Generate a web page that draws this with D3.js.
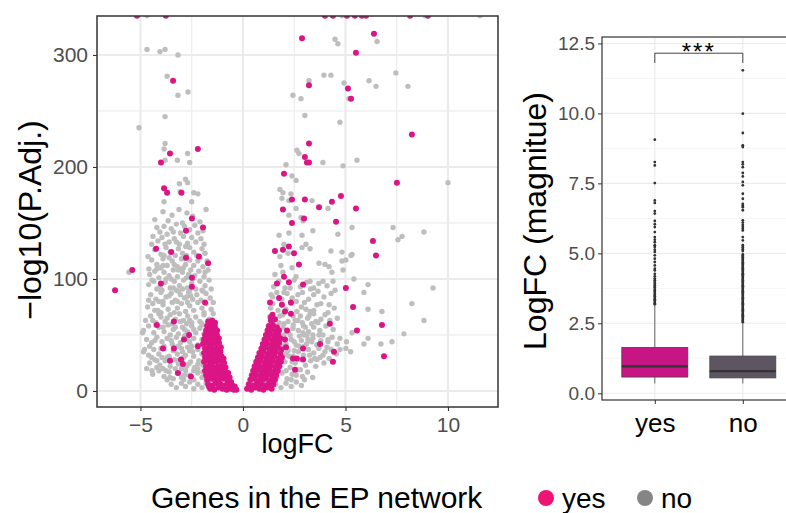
<!DOCTYPE html>
<html>
<head>
<meta charset="utf-8">
<script src="https://cdn.jsdelivr.net/npm/d3@7"></script>
<style>
  html, body { margin: 0; padding: 0; background: #fff; }
  svg { display: block; }
  text { font-family: "Liberation Sans", Arial, Helvetica, sans-serif; }
</style>
</head>
<body>
<svg id="chart" width="786" height="513"></svg>
<script>
// ---- Volcano plot data: [logFC, -log10(adjusted P)] ----
// genes outside the EP network, down-regulated side
const otherDown = [
  [-4.68,335],
  [-4.68,305],[-4.05,303],[-3.8,305],[-3.17,300],[-3.7,281],[-3.17,264],[-2.68,267],[-3.8,245],[-5.07,235],
  [-3.8,221],[-3.85,216],[-3.8,206],[-3.2,206],[-2.7,212],[-2.6,204],[-2.8,189],[-3.1,185],[-2.7,186],
  [-3.07,178],[-2.4,177],[-2.2,176],[-3.85,169],[-2.5,169],[-3.9,160],[-3.46,157],[-3.12,162],[-2.73,159],
  [-1.8,162],[-4.3,153],[-2.2,141],[-4.39,138],[-4.05,142],[-3.5,145],[-4.63,120],[-4.59,109],[-5.56,106],
  [-4.44,99],[-4.2,91],[-4.9,52],[-4.8,37],[-4.44,18],[-4.2,21],[-3.56,12],
  [-3.65,152],[-2.95,150],[-2.45,156],[-2.1,151],
  [-3.85,147],[-3.25,149],[-3.05,141],[-2.85,147],[-2.6,144],[-2.35,148],[-1.95,143],[-3.7,140],[-4.2,146],
  [-4.15,134],[-3.95,137],[-3.6,133],[-3.35,136],[-3.1,131],[-2.9,138],[-2.7,132],[-2.5,137],[-2.3,133],[-2.05,136],[-1.9,131],[-3.8,131],[-4.45,131],
  [-4.3,126],[-4.0,122],[-3.75,128],[-3.55,124],[-3.3,121],[-3.15,127],[-2.95,123],[-2.6,128],[-2.4,124],[-2.25,121],[-2.0,127],[-1.85,123],[-3.85,121],[-2.75,121],
  [-4.45,117],[-4.2,113],[-3.9,118],[-3.7,112],[-3.45,116],[-3.2,111],[-3.0,118],[-2.8,113],[-2.6,117],[-2.4,112],[-2.2,116],[-1.95,111],[-1.75,116],[-3.6,119],[-3.35,113],[-2.9,110],[-2.1,119],[-4.0,110],
  [-4.55,104],[-4.3,107],[-4.1,101],[-3.85,106],[-3.6,103],[-3.4,108],[-3.2,102],[-2.95,106],[-2.75,101],[-2.55,108],[-2.35,103],[-2.15,107],[-1.9,102],[-1.7,108],[-3.75,100],[-3.05,109],[-2.45,100],[-1.85,106],[-4.2,109],
  [-4.6,95],[-4.35,98],[-4.05,93],[-3.8,97],[-3.55,92],[-3.35,98],[-3.1,94],[-2.9,99],[-2.7,92],[-2.5,96],[-2.3,91],[-2.1,98],[-1.85,94],[-1.65,99],[-1.55,91],[-3.95,90],[-3.25,90],[-2.6,90],[-2.0,90],
  [-4.5,86],[-4.25,82],[-4.0,88],[-3.75,84],[-3.5,87],[-3.3,81],[-3.05,86],[-2.85,83],[-2.65,88],[-2.45,82],[-2.25,86],[-2.05,81],[-1.8,87],[-1.6,83],[-3.9,80],[-3.15,89],[-2.55,85],[-1.95,89],[-4.6,81],
  [-4.65,75],[-4.4,78],[-4.15,72],[-3.9,77],[-3.65,73],[-3.45,79],[-3.2,74],[-3.0,78],[-2.8,71],[-2.6,76],[-2.4,72],[-2.2,79],[-2.0,74],[-1.8,78],[-1.55,73],[-1.45,79],[-4.0,70],[-3.35,70],[-2.7,79],[-1.9,70],
  [-4.75,63],[-4.5,67],[-4.25,61],[-4.0,66],[-3.8,62],[-3.55,68],[-3.3,64],[-3.1,69],[-2.9,63],[-2.7,67],[-2.5,61],[-2.3,66],[-2.1,62],[-1.9,68],[-1.65,64],[-1.45,69],[-4.1,69],[-3.45,60],[-2.75,60],[-2.0,60],
  [-4.85,54],[-4.6,58],[-4.35,52],[-4.1,57],[-3.85,53],[-3.65,59],[-3.4,55],[-3.15,51],[-2.95,57],[-2.7,53],[-2.5,58],[-2.3,52],[-2.1,56],[-1.9,51],[-1.7,57],[-1.5,53],[-1.35,58],[-4.25,59],[-3.55,50],[-2.8,50],[-2.0,59],
  [-4.7,46],[-4.45,43],[-4.2,48],[-3.95,44],[-3.7,47],[-3.45,42],[-3.25,48],[-3.05,43],[-2.85,49],[-2.6,44],[-2.4,47],[-2.2,41],[-2.0,46],[-1.8,42],[-1.6,48],[-1.4,44],[-1.25,49],[-4.55,40],[-3.85,40],[-3.15,40],[-2.5,40],
  [-4.85,35],[-4.6,32],[-4.35,37],[-4.1,33],[-3.85,38],[-3.6,31],[-3.4,36],[-3.2,33],[-3.0,38],[-2.8,32],[-2.6,36],[-2.4,31],[-2.2,37],[-2.0,33],[-1.8,38],[-1.6,32],[-1.4,36],[-1.2,31],[-1.1,37],[-4.45,30],[-3.7,30],[-2.9,30],
  [-4.55,25],[-4.3,28],[-4.05,23],[-3.8,27],[-3.55,22],[-3.35,28],[-3.15,24],[-2.95,29],[-2.75,22],[-2.55,26],[-2.35,21],[-2.15,27],[-1.95,23],[-1.75,28],[-1.55,22],[-1.35,26],[-1.15,21],[-0.95,27],[-4.7,20],[-3.9,20],[-3.0,20],[-2.2,20],
  [-4.4,15],[-4.1,18],[-3.85,13],[-3.6,17],[-3.4,11],[-3.2,16],[-3.0,12],[-2.8,18],[-2.6,14],[-2.4,10],[-2.2,16],[-2.0,12],[-1.8,17],[-1.6,11],[-1.4,15],[-1.2,12],[-1.0,17],[-0.85,11],[-3.7,10],[-2.9,10],
  [-3.5,6],[-3.25,3],[-3.0,7],[-2.8,4],[-2.6,8],[-2.4,2],[-2.2,6],[-2.0,3],[-1.8,7],[-1.6,2],[-1.4,5],[-1.2,8],[-1.0,3],[-0.8,6],[-0.6,2],[-0.45,4],
  [-3.6,85],[-3.4,92],[-3.2,80],[-2.95,91],[-2.75,84],[-3.3,57],[-3.05,62],[-2.85,55],[-2.6,63],[-2.4,55],
  [-3.5,45],[-3.3,39],[-2.7,39],[-2.45,35],[-2.7,46],[-2.95,35],[-3.7,65],[-3.9,57],[-4.4,63],[-4.3,45],
  [-4.0,38],[-4.2,27],[-3.95,30],[-3.2,27],[-2.65,24],[-2.4,18],[-2.2,24],[-1.95,17],[-3.75,18],[-3.3,20],
  [-2.85,14],[-4.3,72],[-4.1,80],[-3.15,108],[-2.85,118],[-2.65,104],[-3.5,100],[-3.9,112],[-3.25,133],[-2.8,129],[-3.4,142]
];

// genes outside the EP network, up-regulated side
const otherUp = [
  [4.83,335],[8.88,335],[11.56,335],
  [4.49,314],[4.63,310],[6.54,312],[3.95,282],[4.29,282],[3.22,277],[4.93,275],[5.17,261],[6.15,277],[6.49,272],
  [7.46,284],[8.05,272],[2.44,264],[2.83,261],[3.02,246],[4.73,240],[2.63,215],[2.73,212],[3.9,204],[2.1,202],
  [4.88,201],[5.56,206],[2.39,192],[2.59,188],[10.0,186],[1.8,180],[1.95,177],[1.9,172],[2.34,176],[2.24,170],
  [3.37,170],[4.15,163],[2.59,163],[2.83,155],[2.93,152],[2.24,157],[1.76,139],[2.24,141],[2.88,139],[3.41,143],
  [4.63,140],[5.32,146],[7.32,146],[7.76,138],[7.56,135],[8.83,142],[2.0,131],[2.2,123],[1.8,120],[2.88,128],
  [3.07,131],[3.27,127],[4.29,125],[4.83,124],[5.32,122],[5.02,117],[5.27,121],[3.71,114],[4.0,113],[4.2,111],
  [4.34,106],[4.88,108],[4.83,116],[1.85,112],[1.56,104],[1.95,106],[2.39,110],[2.59,102],[3.27,98],[3.9,98],
  [4.39,98],[2.68,86],[3.66,89],[4.49,90],[6.1,95],[5.9,88],[5.41,100],[9.27,92],[1.37,86],[1.46,78],[1.71,72],
  [2.63,71],[3.07,73],[3.27,71],[3.61,77],[4.2,77],[4.15,70],[6.1,73],[6.78,71],[8.24,78],[1.76,61],[2.68,63],
  [2.44,56],[3.56,62],[4.24,63],[3.66,61],[3.22,67],[8.83,63],[6.1,47],[5.9,42],[5.02,38],[4.73,37],[4.15,46],
  [4.1,39],[3.76,30],[3.9,32],[3.61,28],[2.98,50],[3.17,46],[3.41,47],[5.32,52],[4.73,47],[7.85,51],[7.27,44],
  [6.73,42],[3.71,50],[3.9,50],[4.15,44],[3.8,45],[3.41,50],[3.12,50],[2.93,52],
  [1.5,93],[1.75,98],[2.05,92],[2.5,99],[2.8,93],[3.1,97],[3.45,92],[3.7,96],[4.1,94],
  [1.45,84],[1.65,88],[1.9,82],[2.15,87],[2.4,83],[2.9,88],[3.2,82],[3.45,86],[3.95,84],[4.3,87],
  [1.35,74],[1.9,77],[2.1,73],[2.35,78],[2.85,75],[3.45,72],[3.8,78],[4.45,74],
  [1.3,66],[1.5,63],[1.95,68],[2.2,62],[2.45,67],[2.9,61],[3.15,65],[3.45,69],[3.8,64],[4.0,68],[4.6,65],
  [1.2,55],[1.45,58],[1.7,52],[1.95,57],[2.2,53],[2.45,59],[2.7,54],[2.95,58],[3.2,53],[3.45,57],[3.75,54],[4.05,58],[4.4,55],
  [1.1,45],[1.35,48],[1.6,43],[1.85,47],[2.1,42],[2.35,46],[2.6,41],[2.85,45],[3.1,42],[3.35,44],[3.6,41],[4.35,48],[4.6,42],[5.05,44],
  [0.95,35],[1.2,38],[1.45,33],[1.7,37],[1.95,32],[2.2,36],[2.45,31],[2.7,35],[2.95,32],[3.2,37],[3.45,34],[3.7,38],[4.0,35],[4.3,37],[4.55,33],[5.25,35],
  [0.8,25],[1.05,28],[1.3,23],[1.55,27],[1.8,22],[2.05,26],[2.3,21],[2.55,25],[2.8,28],[3.05,23],[3.3,27],[3.55,22],[3.95,25],[4.2,29],
  [0.65,15],[0.9,18],[1.15,13],[1.4,17],[1.65,12],[1.9,16],[2.15,11],[2.4,15],[2.65,19],[2.9,13],[3.15,17],[3.4,12],
  [0.45,6],[0.75,3],[1.05,7],[1.35,4],[1.6,6],[1.85,3],[2.1,7],[2.35,4],[2.6,8],[2.85,5],
  [2.0,60],[2.3,50],[2.5,44],[2.75,49],[2.25,31],[2.4,26],[2.1,18],[2.35,10],[2.6,14],[2.8,19],
  [3.0,10],[2.5,36],[2.75,40],[3.0,40],[3.25,32],[3.5,29],[2.55,63],[2.8,67],[3.05,57],[3.35,60],
  [2.0,88],[2.3,92],[2.6,80],[3.0,79],[3.3,91],[1.8,67],[2.0,50],[1.95,40],[2.1,33]
];

// EP-network genes, down-regulated side
const epDown = [
  [-5.17,335],[-3.76,335],
  [-3.41,277],[-4.0,204],[-3.56,212],[-2.2,216],[-3.85,181],[-3.7,177],[-3.0,177],
  [-2.49,154],[-1.95,146],[-2.78,143],[-4.24,127],[-3.5,124],[-2.78,119],[-2.15,120],[-1.7,114],[-5.4,108],
  [-6.24,90],[-2.49,101],[-4.0,96],[-2.49,93],[-1.85,79],[-4.2,59],[-3.37,62],[-3.9,38],[-3.37,38],[-2.63,50],
  [-2.88,46],[-3.56,27],[-3.02,28],[-2.93,24],[-3.17,16],[-2.54,13],[-2.2,40],[-1.66,4],
  [-1.6,2],[-1.4,1],[-1.2,3],[-1.0,2],[-0.8,1],[-0.6,2],[-0.45,1],[-0.32,1],
  [-1.7,6],[-1.5,5],[-1.3,7],[-1.1,6],[-0.9,5],[-0.7,6],[-0.52,5],[-0.4,4],
  [-1.75,10],[-1.55,11],[-1.35,9],[-1.15,10],[-0.95,11],[-0.75,9],[-0.58,8],
  [-1.8,14],[-1.6,15],[-1.4,13],[-1.2,14],[-1.0,15],[-0.82,13],[-0.65,12],
  [-1.85,18],[-1.65,19],[-1.45,17],[-1.25,18],[-1.05,19],[-0.88,17],[-0.72,16],
  [-1.8,22],[-1.6,23],[-1.4,21],[-1.2,22],[-1.0,23],[-0.85,21],
  [-1.9,26],[-1.7,27],[-1.5,25],[-1.3,26],[-1.1,27],[-0.92,25],
  [-1.85,30],[-1.65,31],[-1.45,29],[-1.25,30],[-1.05,31],[-0.95,29],
  [-1.9,34],[-1.7,35],[-1.5,33],[-1.3,34],[-1.1,35],
  [-1.85,38],[-1.65,39],[-1.45,37],[-1.25,38],[-1.08,39],
  [-1.95,42],[-1.75,43],[-1.55,41],[-1.35,42],[-1.17,43],
  [-1.9,46],[-1.7,47],[-1.5,45],[-1.3,46],[-1.18,47],
  [-1.85,50],[-1.65,51],[-1.45,49],[-1.27,50],
  [-1.8,54],[-1.6,55],[-1.4,53],[-1.26,54],
  [-1.75,58],[-1.55,59],[-1.37,57],
  [-1.7,62],[-1.5,63],[-1.36,61]
];

// EP-network genes, up-regulated side
const epUp = [
  [4.0,335],[4.39,335],[5.07,335],[5.46,335],[5.8,335],[6.0,335],[8.15,335],[9.02,335],
  [2.88,315],[6.39,319],[5.51,302],[3.22,273],[5.12,270],[5.27,261],[8.24,229],[3.22,221],[3.02,209],[3.12,204],
  [3.22,204],[2.0,194],[7.51,186],[2.39,171],[3.02,171],[4.34,169],[4.78,174],[3.71,164],[5.51,163],[1.95,162],
  [2.39,150],[2.98,154],[4.54,151],[6.34,134],[6.49,121],[1.56,125],[1.95,126],[2.24,129],[2.49,123],[2.73,113],
  [2.0,102],[1.66,96],[2.24,97],[2.93,95],[5.02,92],[1.32,79],[1.76,83],[1.9,77],[2.34,79],[2.05,71],[2.34,69],
  [5.37,75],[1.37,66],[4.24,60],[2.15,54],[5.56,54],[3.76,42],[4.44,35],[4.39,26],[2.93,38],[2.44,29],[2.63,29],
  [2.93,28],[2.54,19],[2.1,39],[2.05,46],[6.78,59],[6.88,31],
  [0.2,2],[0.4,1],[0.6,3],[0.8,2],[1.0,1],[1.2,3],[1.4,2],
  [0.28,6],[0.48,5],[0.68,7],[0.88,6],[1.08,5],[1.28,7],[1.48,6],
  [0.36,10],[0.56,11],[0.76,9],[0.96,10],[1.16,11],[1.36,9],[1.56,10],
  [0.43,14],[0.63,15],[0.83,13],[1.03,14],[1.23,15],[1.43,13],[1.62,14],
  [0.5,18],[0.7,19],[0.9,17],[1.1,18],[1.3,19],[1.5,17],[1.7,18],
  [0.57,22],[0.77,23],[0.97,21],[1.17,22],[1.37,23],[1.57,21],[1.77,22],
  [0.65,26],[0.85,27],[1.05,25],[1.25,26],[1.45,27],[1.65,25],[1.85,26],
  [0.73,30],[0.93,31],[1.13,29],[1.33,30],[1.53,31],[1.73,29],[1.9,30],
  [0.8,34],[1.0,35],[1.2,33],[1.4,34],[1.6,35],[1.82,33],
  [0.9,38],[1.1,39],[1.3,37],[1.5,38],[1.7,39],[1.88,37],
  [0.97,42],[1.17,43],[1.37,41],[1.57,42],[1.77,43],
  [1.05,46],[1.25,47],[1.45,45],[1.65,46],[1.82,47],
  [1.12,50],[1.32,51],[1.52,49],[1.72,50],
  [1.2,54],[1.4,55],[1.6,53],[1.76,54],
  [1.26,58],[1.46,59],[1.66,57],
  [1.36,63],[1.56,64],
  [1.44,68]
];

const volcanoXTicks = [-5, 0, 5, 10];
const volcanoXMinor = [-2.5, 2.5, 7.5];
const volcanoYTicks = [0, 100, 200, 300];
const volcanoYMinor = [50, 150, 250];

// ---- Boxplot data: |logFC| by network membership ----
const groups = ["yes", "no"];
const whiskerLow = [0.35, 0.35];
const quart1 = [0.58, 0.55];
const medians = [0.96, 0.79];
const quart3 = [1.64, 1.33];
const whiskerHigh = [3.14, 2.50];
const outliersYes = [9.06, 8.26, 8.14, 7.51, 6.89, 6.8, 6.51, 6.42, 6.16, 6.04, 5.94, 5.76, 5.58, 5.49, 5.4,
  5.29, 5.23, 5.13, 5.05, 4.93, 4.81, 4.69, 4.57, 4.45, 4.39, 4.27, 4.18, 4.1, 4.04, 3.98, 3.92, 3.86, 3.8, 3.77,
  3.7, 3.66, 3.62, 3.56, 3.51, 3.47, 3.41, 3.36, 3.32, 3.26, 3.22, 3.18];
const outliersNo = [11.54, 9.99, 9.3, 8.86, 8.8, 8.26, 8.18, 8.08, 7.87, 7.75, 7.55, 7.43, 7.13, 6.95, 6.77,
  6.71, 6.65, 6.54, 6.18, 6.1, 6.02, 5.95, 5.88, 5.82, 5.58, 5.46, 5.29, 5.22, 5.15, 5.08, 4.96, 4.92,
  4.88, 4.85, 4.81, 4.77, 4.73, 4.68, 4.64, 4.6, 4.55, 4.51, 4.47, 4.42, 4.38, 4.34, 4.29, 4.25, 4.21, 4.17,
  4.12, 4.08, 4.04, 3.99, 3.95, 3.91, 3.86, 3.82, 3.78, 3.73, 3.69, 3.65, 3.61, 3.56, 3.52, 3.48, 3.43, 3.39,
  3.35, 3.3, 3.26, 3.22, 3.18, 3.13, 3.09, 3.05, 3.0, 2.96, 2.92, 2.87, 2.83, 2.79, 2.75, 2.7, 2.66, 2.62,
  2.58, 2.54];
const boxYTicks = [0, 2.5, 5, 7.5, 10, 12.5];
const boxYMinor = [1.25, 3.75, 6.25, 8.75, 11.25];
const significance = "***";
const bracketY = 12.15, bracketDrop = 11.8;

// ---- Colours ----
const pink = "#DB1585", grey = "#BEBEBE";
const boxFill = {yes: "#C71585", no: "#5E5563"};
const legendPink = "#EE1476", legendGrey = "#858585";

const svg = d3.select("#chart");

// ================= Volcano panel =================
const L = {left: 97, right: 498, top: 16, bottom: 407};
const x = d3.scaleLinear().domain([-7.12, 12.44]).range([L.left, L.right]);
const y = d3.scaleLinear().domain([-14.3, 334.8]).range([L.bottom, L.top]);

svg.append("defs").append("clipPath").attr("id", "clipL")
  .append("rect").attr("x", L.left).attr("y", L.top)
  .attr("width", L.right - L.left).attr("height", L.bottom - L.top);

const gl = svg.append("g");
gl.selectAll(".vminor").data(volcanoXMinor).join("line")
  .attr("x1", d => x(d)).attr("x2", d => x(d)).attr("y1", L.top).attr("y2", L.bottom)
  .attr("stroke", "#EBEBEB").attr("stroke-width", 1.1);
gl.selectAll(".hminor").data(volcanoYMinor).join("line")
  .attr("y1", d => y(d)).attr("y2", d => y(d)).attr("x1", L.left).attr("x2", L.right)
  .attr("stroke", "#EBEBEB").attr("stroke-width", 1.1);
gl.selectAll(".vmajor").data(volcanoXTicks).join("line")
  .attr("x1", d => x(d)).attr("x2", d => x(d)).attr("y1", L.top).attr("y2", L.bottom)
  .attr("stroke", "#EBEBEB").attr("stroke-width", 2.2);
gl.selectAll(".hmajor").data(volcanoYTicks).join("line")
  .attr("y1", d => y(d)).attr("y2", d => y(d)).attr("x1", L.left).attr("x2", L.right)
  .attr("stroke", "#EBEBEB").attr("stroke-width", 2.2);

const pts = svg.append("g").attr("clip-path", "url(#clipL)");
pts.selectAll(".grey").data(otherDown.concat(otherUp)).join("circle")
  .attr("cx", d => x(d[0])).attr("cy", d => y(d[1])).attr("r", 2.7).attr("fill", grey);
pts.selectAll(".pink").data(epDown.concat(epUp)).join("circle")
  .attr("cx", d => x(d[0])).attr("cy", d => y(d[1])).attr("r", 3).attr("fill", pink);

svg.append("rect").attr("x", L.left).attr("y", L.top)
  .attr("width", L.right - L.left).attr("height", L.bottom - L.top)
  .attr("fill", "none").attr("stroke", "#333").attr("stroke-width", 1.5);

const axL = svg.append("g").attr("transform", `translate(0,${L.bottom})`)
  .call(d3.axisBottom(x).tickValues(volcanoXTicks).tickSize(4).tickPadding(6)
    .tickFormat(d => d < 0 ? "\u2212" + Math.abs(d) : d));
const ayL = svg.append("g").attr("transform", `translate(${L.left},0)`)
  .call(d3.axisLeft(y).tickValues(volcanoYTicks).tickSize(4).tickPadding(5));
[axL, ayL].forEach(a => {
  a.select(".domain").remove();
  a.selectAll("line").attr("stroke", "#333").attr("stroke-width", 1.1);
  a.selectAll("text").attr("fill", "#4D4D4D").style("font-size", "21px");
});

svg.append("text").attr("x", (L.left + L.right) / 2).attr("y", 453).attr("text-anchor", "middle")
  .style("font-size", "27px").attr("fill", "#000").text("logFC");
svg.append("text").attr("transform", "translate(41,220) rotate(-90)").attr("text-anchor", "middle")
  .style("font-size", "32px").attr("fill", "#000").text("\u2212log10(P.Adj.)");

// ================= Boxplot panel =================
const R = {left: 602, right: 795.6, top: 37, bottom: 400};
const xb = d3.scalePoint().domain(groups).range([R.left, R.right]).padding(0.6);
const yb = d3.scaleLinear().domain([-0.24, 12.73]).range([R.bottom, R.top]);
const boxW = xb.step() * 0.75;

const gr = svg.append("g");
gr.selectAll(".hminor").data(boxYMinor).join("line")
  .attr("y1", d => yb(d)).attr("y2", d => yb(d)).attr("x1", R.left).attr("x2", R.right)
  .attr("stroke", "#F2F2F2").attr("stroke-width", 0.8);
gr.selectAll(".hmajor").data(boxYTicks).join("line")
  .attr("y1", d => yb(d)).attr("y2", d => yb(d)).attr("x1", R.left).attr("x2", R.right)
  .attr("stroke", "#EBEBEB").attr("stroke-width", 1.1);
gr.selectAll(".vmajor").data(groups).join("line")
  .attr("x1", d => xb(d)).attr("x2", d => xb(d)).attr("y1", R.top).attr("y2", R.bottom)
  .attr("stroke", "#EBEBEB").attr("stroke-width", 1.1);

groups.forEach((g, i) => {
  const cx = xb(g);
  const box = svg.append("g");
  box.append("line").attr("x1", cx).attr("x2", cx).attr("y1", yb(quart3[i])).attr("y2", yb(whiskerHigh[i]))
    .attr("stroke", "#444").attr("stroke-width", 0.8);
  box.append("line").attr("x1", cx).attr("x2", cx).attr("y1", yb(quart1[i])).attr("y2", yb(whiskerLow[i]))
    .attr("stroke", "#444").attr("stroke-width", 0.8);
  box.append("rect").attr("x", cx - boxW / 2).attr("width", boxW)
    .attr("y", yb(quart3[i])).attr("height", yb(quart1[i]) - yb(quart3[i]))
    .attr("fill", boxFill[g]).attr("stroke", "#444").attr("stroke-width", 0.8);
  box.append("line").attr("x1", cx - boxW / 2).attr("x2", cx + boxW / 2)
    .attr("y1", yb(medians[i])).attr("y2", yb(medians[i]))
    .attr("stroke", "#333").attr("stroke-width", 2.4);
  const outs = g === "yes" ? outliersYes : outliersNo;
  box.selectAll("circle").data(outs).join("circle")
    .attr("cx", cx).attr("cy", d => yb(d)).attr("r", 1.4).attr("fill", "#333");
});

// significance bracket
const bx1 = xb("yes"), bx2 = xb("no");
svg.append("path")
  .attr("d", `M${bx1},${yb(bracketDrop)}V${yb(bracketY)}H${bx2}V${yb(bracketDrop)}`)
  .attr("fill", "none").attr("stroke", "#333").attr("stroke-width", 0.9);
svg.append("text").attr("x", (bx1 + bx2) / 2).attr("y", 60).attr("text-anchor", "middle")
  .style("font-size", "24px").style("letter-spacing", "2px").attr("fill", "#000").text(significance);

svg.append("rect").attr("x", R.left).attr("y", R.top)
  .attr("width", R.right - R.left).attr("height", R.bottom - R.top)
  .attr("fill", "none").attr("stroke", "#333").attr("stroke-width", 1.2);

const axR = svg.append("g").attr("transform", `translate(0,${R.bottom})`)
  .call(d3.axisBottom(xb).tickSize(4).tickPadding(10));
const ayR = svg.append("g").attr("transform", `translate(${R.left},0)`)
  .call(d3.axisLeft(yb).tickValues(boxYTicks).tickSize(4).tickPadding(3).tickFormat(d3.format(".1f")));
[axR, ayR].forEach(a => {
  a.select(".domain").remove();
  a.selectAll("line").attr("stroke", "#333").attr("stroke-width", 1);
});
axR.selectAll("text").attr("fill", "#000").style("font-size", "26px");
ayR.selectAll("text").attr("fill", "#4D4D4D").style("font-size", "19px");

svg.append("text").attr("transform", "translate(546,221) rotate(-90)").attr("text-anchor", "middle")
  .style("font-size", "32px").attr("fill", "#000").text("LogFC (magnitue)");

// ================= Legend =================
const legend = svg.append("g");
legend.append("text").attr("x", 151).attr("y", 508).style("font-size", "30px").attr("fill", "#000")
  .text("Genes in the EP network");
const legendItems = [{label: "yes", color: legendPink, x: 546}, {label: "no", color: legendGrey, x: 645}];
legend.selectAll("circle").data(legendItems).join("circle")
  .attr("cx", d => d.x).attr("cy", 498).attr("r", 8).attr("fill", d => d.color);
legend.selectAll(".lab").data(legendItems).join("text")
  .attr("x", d => d.x + 16).attr("y", 508).style("font-size", "28px").attr("fill", "#000")
  .text(d => d.label);
</script>
</body>
</html>
